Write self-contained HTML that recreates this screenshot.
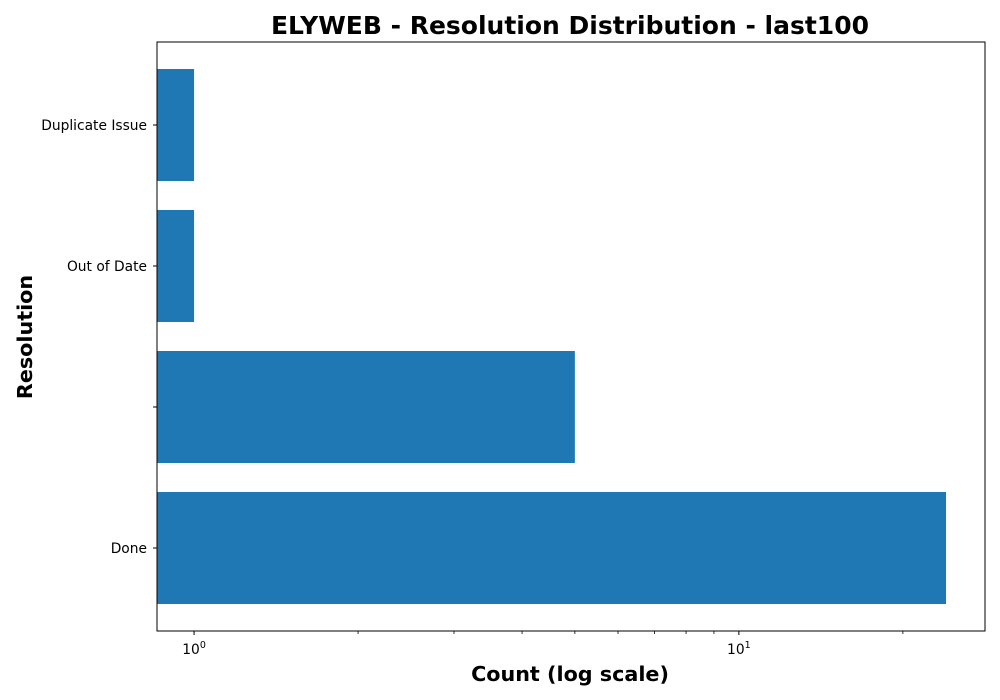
<!DOCTYPE html>
<html><head><meta charset="utf-8"><style>body{margin:0;background:#fff}svg{display:block;font-family:"DejaVu Sans","Liberation Sans",sans-serif}</style></head>
<body>
<svg id="c" width="1000" height="700" viewBox="0 0 1000 700">
<rect x="0" y="0" width="1000" height="700" fill="#fff"/>
<text x="570" y="34" text-anchor="middle" font-size="25" font-weight="bold">ELYWEB - Resolution Distribution - last100</text>
<g id="bars"></g>
<g id="axes"></g>
<rect x="157" y="42" width="828" height="589" fill="none" stroke="#000" stroke-width="1"/>
<text x="570" y="681" text-anchor="middle" font-size="20.7" font-weight="bold">Count (log scale)</text>
<text transform="translate(32,337) rotate(-90)" text-anchor="middle" font-size="20.7" font-weight="bold">Resolution</text>
</svg>
<script>
const categories = ["Done", "", "Out of Date", "Duplicate Issue"];
const counts = [24, 5, 1, 1];
const majorTicks = [1, 10];
const minorTicks = [2,3,4,5,6,7,8,9,20];
const NS="http://www.w3.org/2000/svg";
const x0=157,x1=985,yTop=42,yBot=631;
const lmin=Math.log10(0.855), lmax=Math.log10(28.3);
function xs(v){return x0+(Math.log10(v)-lmin)/(lmax-lmin)*(x1-x0);}
const band=141, bh=112;
function yc(i){return 548-i*band;}
function mk(t,a,p){const e=document.createElementNS(NS,t);for(const k in a)e.setAttribute(k,a[k]);p.appendChild(e);return e;}
const bars=document.getElementById('bars'), axes=document.getElementById('axes');
counts.forEach((v,i)=>{
  const r=mk('rect',{x:x0,y:yc(i)-bh/2,width:Math.max(0,xs(v)-x0),height:bh,fill:'#1f77b4'},bars);
  
  
  mk('line',{x1:x0-4,x2:x0,y1:yc(i),y2:yc(i),stroke:'#000'},axes);
  const l=mk('text',{x:x0-10,y:yc(i)+5,'text-anchor':'end','font-size':13.8},axes);
  l.textContent=categories[i];
  
  
});
majorTicks.forEach(v=>{
  const x=xs(v);
  mk('line',{x1:x,x2:x,y1:yBot,y2:yBot+4,stroke:'#000'},axes);
  const l=mk('text',{x:x,y:yBot+23,'text-anchor':'middle','font-size':13.8},axes);
  l.textContent='10';
  const s=mk('tspan',{dy:-6,'font-size':9.5},l);s.textContent=String(Math.round(Math.log10(v)));
  
  
});
minorTicks.forEach(v=>{const x=xs(v);mk('line',{x1:x,x2:x,y1:yBot,y2:yBot+3,stroke:'#000','stroke-width':0.8},axes);});
</script>
</body></html>
